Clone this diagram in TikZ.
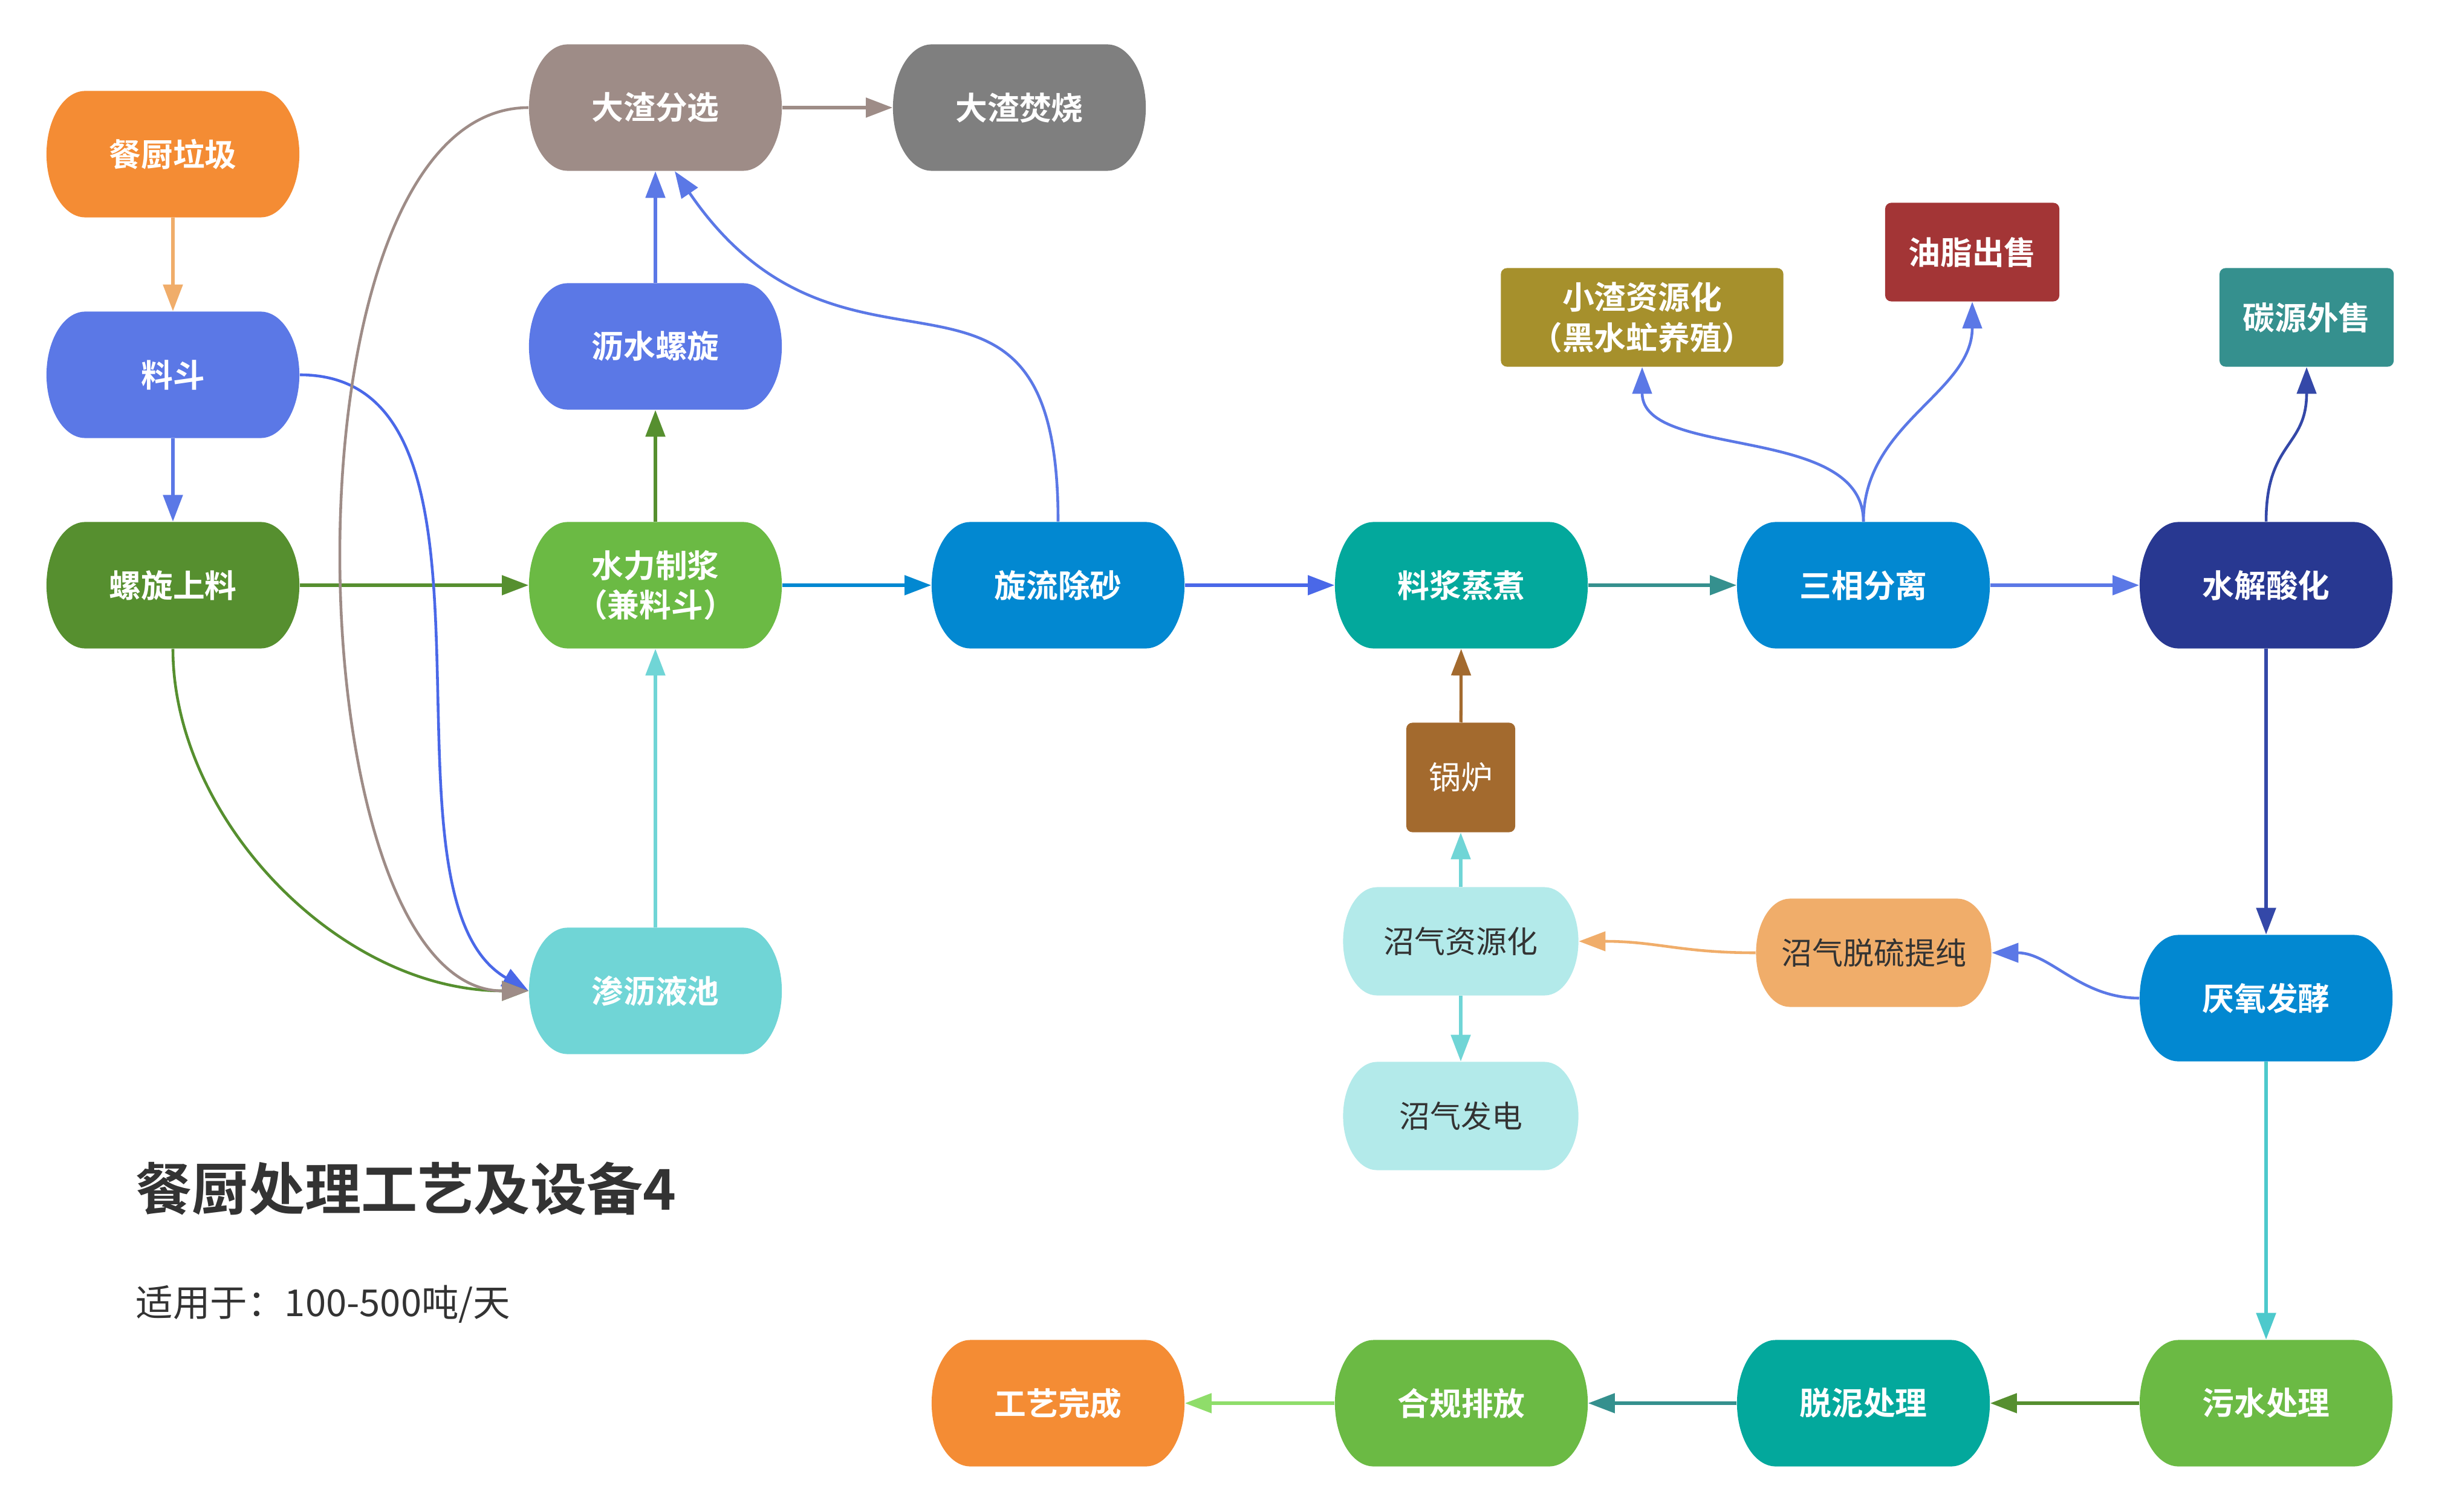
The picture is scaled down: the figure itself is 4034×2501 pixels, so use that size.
\documentclass[tikz,border=0pt]{standalone}
\usepackage{fontspec}
\setmainfont{Noto Sans CJK SC}[BoldFont={Noto Sans CJK SC Bold}]
\usepackage{xcolor}
\usepackage{tikz}
\usetikzlibrary{arrows.meta}

\definecolor{cOrange}{HTML}{F48C34}
\definecolor{cPeach}{HTML}{F0AD6A}
\definecolor{cBlue}{HTML}{5B78E6}
\definecolor{cRoyal}{HTML}{4A68E8}
\definecolor{cDkGreen}{HTML}{568F2F}
\definecolor{cGreen}{HTML}{6BBA44}
\definecolor{cLtGreen}{HTML}{8FDD6A}
\definecolor{cTaupe}{HTML}{9E8C87}
\definecolor{cGray}{HTML}{7F7F7F}
\definecolor{cCyan}{HTML}{70D5D6}
\definecolor{cSky}{HTML}{0288D1}
\definecolor{cTeal}{HTML}{03A89C}
\definecolor{cSea}{HTML}{35908E}
\definecolor{cNavy}{HTML}{283891}
\definecolor{cNavyLine}{HTML}{3448A8}
\definecolor{cOlive}{HTML}{A6902C}
\definecolor{cRed}{HTML}{A33536}
\definecolor{cBrown}{HTML}{A36A2E}
\definecolor{cPale}{HTML}{B3EAEA}
\definecolor{cAqua}{HTML}{4DC9CC}
\definecolor{cInk}{HTML}{333333}

\begin{document}
\begin{tikzpicture}[x=0.01cm,y=-0.01cm,>={Triangle[length=4.4mm,width=3.2mm]}]
\tikzset{
  proc/.style={rectangle,fill=white,minimum width=4.18cm,minimum height=2.09cm,inner sep=0pt,text=white,
    font=\fontsize{15}{18.5}\selectfont\bfseries,align=center,
    path picture={
      \fill[#1] ([xshift=6.4mm]path picture bounding box.north west) -- ([xshift=-6.4mm]path picture bounding box.north east)
        arc[start angle=90,end angle=-90,x radius=6.4mm,y radius=10.45mm]
        -- ([xshift=6.4mm]path picture bounding box.south west)
        arc[start angle=270,end angle=90,x radius=6.4mm,y radius=10.45mm] -- cycle;}},
  gas/.style={rectangle,fill=white,minimum width=3.89cm,minimum height=1.79cm,inner sep=0pt,text=cInk,
    font=\fontsize{14.5}{18}\selectfont,
    path picture={
      \fill[#1] ([xshift=5.6mm]path picture bounding box.north west) -- ([xshift=-5.6mm]path picture bounding box.north east)
        arc[start angle=90,end angle=-90,x radius=5.6mm,y radius=8.95mm]
        -- ([xshift=5.6mm]path picture bounding box.south west)
        arc[start angle=270,end angle=90,x radius=5.6mm,y radius=8.95mm] -- cycle;}}
}
\tikzstyle{box}=[rectangle,rounded corners=1mm,minimum width=2.88cm,minimum height=1.63cm,inner sep=0pt,
  text=white,font=\fontsize{15}{19}\selectfont\bfseries,align=center]
\tikzstyle{flow}=[->,line width=1.5pt]
\tikzstyle{curveline}=[->,line width=1.3pt]
\useasboundingbox (0,0) rectangle (4034,2501);

\node[proc=cOrange] (waste) at (286,255) {餐厨垃圾};
\node[proc=cBlue] (hopper) at (286,620) {料斗};
\node[proc=cDkGreen] (feeder) at (286,968) {螺旋上料};
\node[proc=cTaupe] (sorting) at (1084,178) {大渣分选};
\node[proc=cGray] (burn) at (1686,178) {大渣焚烧};
\node[proc=cBlue] (drain) at (1084,573) {沥水螺旋};
\node[proc=cGreen] (pulper) at (1084,968) {水力制浆\\（兼料斗）};
\node[proc=cCyan] (pool) at (1084,1639) {渗沥液池};
\node[proc=cSky] (cyclone) at (1750,968) {旋流除砂};
\node[proc=cTeal] (cook) at (2417,968) {料浆蒸煮};
\node[proc=cSky] (sep) at (3082,968) {三相分离};
\node[proc=cNavy] (hydro) at (3748,968) {水解酸化};
\node[box,fill=cOlive,minimum width=4.67cm] (residue) at (2716,525) {小渣资源化\\（黑水虻养殖）};
\node[box,fill=cRed] (oil) at (3262,417) {油脂出售};
\node[box,fill=cSea] (carbon) at (3815,525) {碳源外售};
\node[box,fill=cBrown,minimum width=1.8cm,minimum height=1.81cm,font=\fontsize{15}{18}\selectfont] (boiler) at (2416,1286) {锅炉};
\node[gas=cPale] (biogas) at (2416,1557) {沼气资源化};
\node[gas=cPale] (power) at (2416,1846) {沼气发电};
\node[gas=cPeach] (desulf) at (3099,1576) {沼气脱硫提纯};
\node[proc=cSky] (digest) at (3748,1651) {厌氧发酵};
\node[proc=cGreen] (sewage) at (3748,2321) {污水处理};
\node[proc=cTeal] (sludge) at (3082,2321) {脱泥处理};
\node[proc=cGreen] (discharge) at (2417,2321) {合规排放};
\node[proc=cOrange] (done) at (1750,2321) {工艺完成};

\node[anchor=west,inner sep=0pt,text=cInk,font=\fontsize{26.5}{30}\selectfont\bfseries] (title) at (224,1966) {餐厨处理工艺及设备4};
\node[anchor=west,inner sep=0pt,text=cInk,font=\fontsize{17.5}{21}\selectfont] (scope) at (224,2157) {适用于：100-500吨/天};

% main line
\draw[flow,cPeach] (waste) -- (hopper);
\draw[flow,cBlue] (hopper) -- (feeder);
\draw[flow,cDkGreen] (feeder) -- (pulper);
\draw[flow,cDkGreen] (pulper) -- (drain);
\draw[flow,cBlue] (drain) -- (sorting);
\draw[flow,cTaupe] (sorting) -- (burn);
\draw[flow,cCyan] (pool) -- (pulper);
\draw[flow,cSky] (pulper) -- (cyclone);
\draw[flow,cRoyal] (cyclone) -- (cook);
\draw[flow,cSea] (cook) -- (sep);
\draw[flow,cBlue] (sep) -- (hydro);
\draw[flow,cNavyLine] (hydro) -- (digest);
\draw[flow,cBrown] (boiler) -- (cook);
\draw[flow,cCyan] (biogas) -- (boiler);
\draw[flow,cCyan] (biogas) -- (power);
\draw[flow,cAqua] (digest) -- (sewage);
\draw[flow,cDkGreen] (sewage) -- (sludge);
\draw[flow,cSea] (sludge) -- (discharge);
\draw[flow,cLtGreen] (discharge) -- (done);

% curved lines
\draw[curveline,cRoyal] (hopper.east) .. controls +(385,0) and +(-274,-159) .. (pool.west);
\draw[curveline,cDkGreen] (feeder.south) .. controls +(0,280) and +(-314,0) .. (pool.west);
\draw[curveline,cTaupe] (sorting.west) .. controls +(-424,0) and +(-394,0) .. (pool.west);
\draw[curveline,cBlue] (cyclone.north) .. controls +(0,-523) and +(285,418) .. ([xshift=3.2mm]sorting.south);
\draw[curveline,cBlue] (sep.north) .. controls +(0,-163) and +(0,154) .. (residue.south);
\draw[curveline,cBlue] (sep.north) .. controls +(0,-163) and +(0,151) .. (oil.south);
\draw[curveline,cNavyLine] (hydro.north) .. controls +(0,-133) and +(0,134) .. (carbon.south);
\draw[curveline,cBlue] (digest.west) .. controls +(-98,0) and +(97,0) .. (desulf.east);
\draw[curveline,cPeach] (desulf.west) .. controls +(-124,0) and +(129,0) .. (biogas.east);
\end{tikzpicture}
\end{document}
